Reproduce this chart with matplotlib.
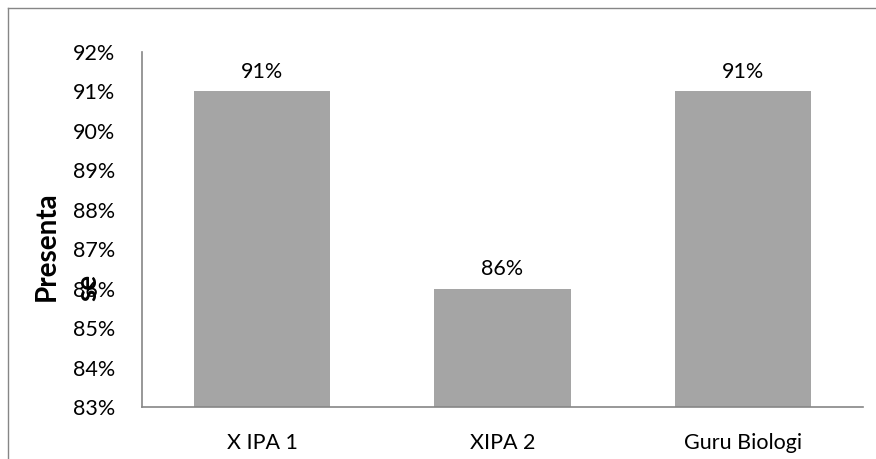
import matplotlib
matplotlib.use("Agg")
import matplotlib.pyplot as plt
from matplotlib.lines import Line2D
from matplotlib.ticker import FuncFormatter, MultipleLocator

categories = ["X IPA 1", "XIPA 2", "Guru Biologi"]
values = [91, 86, 91]
value_labels = ["91%", "86%", "91%"]

plt.rcParams['font.family'] = ['Lato', 'DejaVu Sans']

fig = plt.figure(figsize=(8.76, 4.59), dpi=100)
ax = fig.add_axes([142/876, 1-407/459, (863-142)/876, (407-52)/459])

x = list(range(len(categories)))
bars = ax.bar(x, values, width=0.566, color='#A5A5A5', zorder=2)
ax.set_xlim(-0.5, 2.5)
ax.set_ylim(83, 92)
ax.yaxis.set_major_locator(MultipleLocator(1))
ax.yaxis.set_major_formatter(FuncFormatter(lambda v, p: f"{v:.0f}%"))
ax.set_xticks(x)
ax.set_xticklabels(categories)
ax.tick_params(axis='both', length=0, labelsize=15.5, colors='black')
ax.tick_params(axis='x', pad=19)
ax.tick_params(axis='y', pad=19)

for s in ['top', 'right']:
    ax.spines[s].set_visible(False)
for s in ['left', 'bottom']:
    ax.spines[s].set_color('#868686')
    ax.spines[s].set_linewidth(1.2)

for xi, v, lab in zip(x, values, value_labels):
    ax.annotate(lab, (xi, v), xytext=(0, 7), textcoords='offset points',
                ha='center', va='bottom', fontsize=15.5, color='black')

fig.text(47/876, 1-301/459, "Presenta", rotation=90, ha='center', va='bottom',
         fontsize=20, fontweight='bold', color='black')
fig.text(88/876, 1-301/459, "se", rotation=90, ha='center', va='bottom',
         fontsize=20, fontweight='bold', color='black')

fig.add_artist(Line2D([8/876, 1.0], [1-8/459, 1-8/459], transform=fig.transFigure,
                      color='#868686', linewidth=1.0))
fig.add_artist(Line2D([8/876, 8/876], [0, 1-8/459], transform=fig.transFigure,
                      color='#868686', linewidth=1.0))

fig.savefig("out.png", dpi=100)
